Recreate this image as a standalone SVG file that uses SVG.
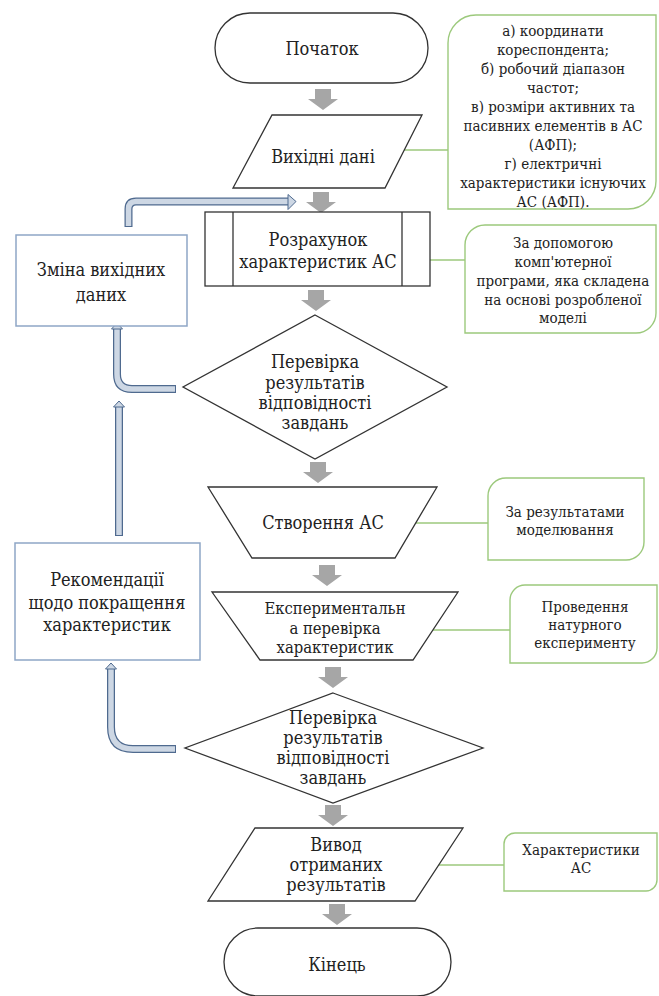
<svg xmlns="http://www.w3.org/2000/svg" xmlns:xlink="http://www.w3.org/1999/xlink" width="659" height="996" viewBox="0 0 659 996">
<defs>
<style>
.sh{fill:#fff;stroke:#333;stroke-width:1.3}
.lb{fill:#fff;stroke:#8ea6c6;stroke-width:1.5}
.nt{fill:#fff;stroke:#9cc97c;stroke-width:1.4}
.cn{fill:none;stroke:#9cc97c;stroke-width:1.4}
text{font-family:'DejaVu Serif',serif;font-stretch:condensed;fill:#222;text-anchor:middle}
.t{font-size:18px}
.e{font-size:16.5px}
.n{font-size:15px}
.to{fill:none;stroke:#4f6a8f;stroke-width:8}
.ti{fill:none;stroke:#cdd7e4;stroke-width:5.5}
.ah{fill:#cdd7e4;stroke:#4f6a8f;stroke-width:1}
.ga{fill:#a6a6a6}
</style>
<path id="ga" class="ga" d="M-8,0 H8 V10 H15 L0,21 L-15,10 H-8 Z"/>
</defs>
<rect width="659" height="996" fill="#fff"/>

<g id="connectors">
<use xlink:href="#ga" x="323" y="89"/>
<use xlink:href="#ga" x="321" y="192"/>
<use xlink:href="#ga" x="316" y="290"/>
<use xlink:href="#ga" x="318" y="462"/>
<use xlink:href="#ga" x="327" y="565"/>
<use xlink:href="#ga" x="333" y="667"/>
<use xlink:href="#ga" x="333" y="805"/>
<use xlink:href="#ga" x="337" y="904"/>
<path class="cn" d="M404,150 H448"/>
<path class="cn" d="M430,260 H465"/>
<path class="cn" d="M416,523 H488"/>
<path class="cn" d="M433,630 H510"/>
<path class="cn" d="M439,865 H504"/>
<path class="to" d="M128.5,227 V209 Q128.5,201.5 136,201.5 H289"/>
<path class="ti" d="M128.5,226 V209 Q128.5,201.5 136,201.5 H289"/>
<polygon class="ah" points="288,194.5 296,201.5 288,209.5"/>
<path class="to" d="M176,389 H132 Q117,389 117,374 V329"/>
<path class="ti" d="M175,389 H132 Q117,389 117,374 V329"/>
<polygon class="ah" points="111.5,329 117,323 122.5,329"/>
<path class="to" d="M119,536 V407"/>
<path class="ti" d="M119,535 V407"/>
<polygon class="ah" points="113.5,407 119,401 124.5,407"/>
<path class="to" d="M176,749 H133 Q111,749 111,727 V669"/>
<path class="ti" d="M175,749 H133 Q111,749 111,727 V669"/>
<polygon class="ah" points="105.5,669 111,663 116.5,669"/>
</g>

<g id="start">
<rect class="sh" x="215" y="13" width="213" height="70" rx="35"/>
<text class="t" x="322" y="55">Початок</text>
</g>
<g id="input">
<polygon class="sh" points="272,115 422,115 385,188 233,188"/>
<text class="t" x="323" y="163">Вихідні дані</text>
</g>
<g id="calc">
<rect class="sh" x="205" y="212" width="225" height="74"/>
<line class="sh" x1="233" y1="212" x2="233" y2="286"/>
<line class="sh" x1="402" y1="212" x2="402" y2="286"/>
<text class="t" x="318" y="246">Розрахунок</text>
<text class="t" x="318" y="268">характеристик АС</text>
</g>
<g id="check1">
<polygon class="sh" points="315,315 447,387 315,459 183,387"/>
<text class="t" x="315" y="368">Перевірка</text>
<text class="t" x="315" y="389">результатів</text>
<text class="t" x="315" y="409">відповідності</text>
<text class="t" x="315" y="429">завдань</text>
</g>
<g id="create">
<polygon class="sh" points="208,487 437,487 395,558 252,558"/>
<text class="t" x="323" y="529">Створення АС</text>
</g>
<g id="experiment">
<polygon class="sh" points="212,592 458,592 413,660 260,660"/>
<text class="e" x="335" y="614">Експериментальн</text>
<text class="e" x="335" y="633.5">а перевірка</text>
<text class="e" x="335" y="653">характеристик</text>
</g>
<g id="check2">
<polygon class="sh" points="333,693 483,748 333,803 185,748"/>
<text class="t" x="333" y="724">Перевірка</text>
<text class="t" x="333" y="744">результатів</text>
<text class="t" x="333" y="764">відповідності</text>
<text class="t" x="333" y="784">завдань</text>
</g>
<g id="output">
<polygon class="sh" points="255,828 463,828 415,901 208,901"/>
<text class="t" x="336" y="851">Вивод</text>
<text class="t" x="336" y="871">отриманих</text>
<text class="t" x="336" y="891">результатів</text>
</g>
<g id="end">
<rect class="sh" x="224" y="928" width="227" height="68" rx="34"/>
<text class="t" x="337" y="971">Кінець</text>
</g>
<g id="change">
<rect class="lb" x="16" y="235" width="171" height="91"/>
<text class="t" x="101" y="276">Зміна вихідних</text>
<text class="t" x="101" y="301">даних</text>
</g>
<g id="recommend">
<rect class="lb" x="15" y="543" width="185" height="117"/>
<text class="t" x="107" y="586">Рекомендації</text>
<text class="t" x="107" y="609">щодо покращення</text>
<text class="t" x="107" y="631">характеристик</text>
</g>
<g id="note1">
<path class="nt" d="M476,15 H656 V181 A28,28 0 0 1 628,209 H448 V43 A28,28 0 0 1 476,15 Z"/>
<text class="n" x="553" y="36">а) координати</text>
<text class="n" x="553" y="55">кореспондента;</text>
<text class="n" x="553" y="74">б) робочий діапазон</text>
<text class="n" x="553" y="93">частот;</text>
<text class="n" x="553" y="112">в) розміри активних та</text>
<text class="n" x="553" y="131">пасивних елементів в АС</text>
<text class="n" x="553" y="150">(АФП);</text>
<text class="n" x="553" y="169">г) електричні</text>
<text class="n" x="553" y="188">характеристики існуючих</text>
<text class="n" x="553" y="207">АС (АФП).</text>
</g>
<g id="note2">
<path class="nt" d="M485,225 H656 V313 A20,20 0 0 1 636,333 H465 V245 A20,20 0 0 1 485,225 Z"/>
<text class="n" x="563" y="248">За допомогою</text>
<text class="n" x="563" y="267">комп'ютерної</text>
<text class="n" x="563" y="286">програми, яка складена</text>
<text class="n" x="563" y="305">на основі розробленої</text>
<text class="n" x="563" y="323">моделі</text>
</g>
<g id="note3">
<path class="nt" d="M506,478 H644 V542 A18,18 0 0 1 626,560 H488 V496 A18,18 0 0 1 506,478 Z"/>
<text class="n" x="565" y="517">За результатами</text>
<text class="n" x="565" y="535">моделювання</text>
</g>
<g id="note4">
<path class="nt" d="M525,585 H657 V648 A15,15 0 0 1 642,663 H510 V600 A15,15 0 0 1 525,585 Z"/>
<text class="n" x="585" y="612">Проведення</text>
<text class="n" x="585" y="630">натурного</text>
<text class="n" x="585" y="648">експерименту</text>
</g>
<g id="note5">
<path class="nt" d="M515,833 H657 V880 A11,11 0 0 1 646,891 H504 V844 A11,11 0 0 1 515,833 Z"/>
<text class="n" x="581" y="855">Характеристики</text>
<text class="n" x="581" y="873">АС</text>
</g>
</svg>
